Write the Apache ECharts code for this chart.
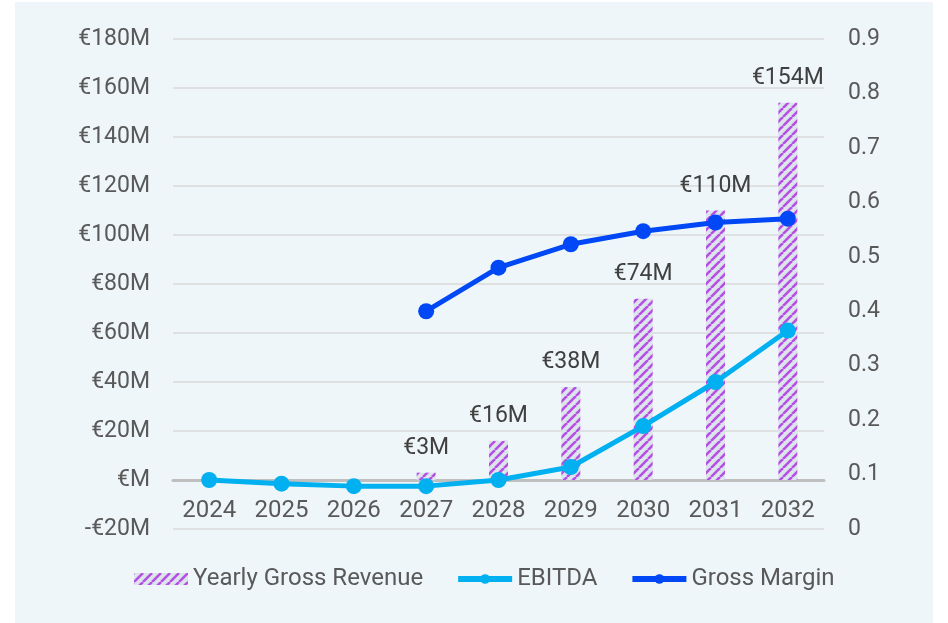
<!DOCTYPE html>
<html>
<head>
<meta charset="utf-8">
<script src="https://cdn.jsdelivr.net/npm/echarts@6/dist/echarts.min.js"></script>
<style>
    html, body {margin: 0; padding: 0; background: #ffffff;}
    #wrap {position: relative; width: 948px; height: 623px;}
    #panel {position: absolute; left: 15px; top: 2px; width: 918px; height: 621px; background: #eff6fa;}
    #chart {position: absolute; left: 0; top: 0; width: 948px; height: 623px;}
</style>
</head>
<body>
<div id="wrap">
    <div id="panel"></div>
    <div id="chart"></div>
</div>
<script>
// data
const years = ['2024', '2025', '2026', '2027', '2028', '2029', '2030', '2031', '2032'];
const grossRevenue = [0, 0, 0, 3, 16, 38, 74, 110, 154];
const ebitda = [0, -1.5, -2.5, -2.5, 0, 5.3, 22, 40, 61];
const grossMargin = [null, null, null, 0.40, 0.48, 0.523, 0.547, 0.563, 0.570];
const leftTicks = {min: -20, max: 180, interval: 20};
const rightTicks = {min: 0, max: 0.9, interval: 0.1};

// hatch pattern for the revenue bars
const makeHatch = () => {
    const size = 9;
    const c = document.createElement('canvas');
    c.width = size;
    c.height = size;
    const ctx = c.getContext('2d');
    ctx.fillStyle = '#dce5ea';
    ctx.fillRect(0, 0, size, size);
    ctx.strokeStyle = '#b54fe6';
    ctx.lineWidth = 2.6;
    [-size, 0, size].forEach(off => {
        ctx.beginPath();
        ctx.moveTo(off, size);
        ctx.lineTo(off + size, 0);
        ctx.stroke();
    });
    return c;
};
const hatch = {image: makeHatch(), repeat: 'repeat'};

const textColor = '#595959';
const fontFamily = 'Roboto, "Liberation Sans", sans-serif';
const ebitdaColor = '#00b0f0';
const marginColor = '#0047f5';

const moneyLabel = v => {
    if (v === 0) return '€M';
    if (v < 0) return '-€' + Math.abs(v) + 'M';
    return '€' + v + 'M';
};

const chart = echarts.init(document.getElementById('chart'), null, {renderer: 'canvas'});
const option = {
    backgroundColor: 'transparent',
    textStyle: {fontFamily},
    grid: {left: 173, right: 124, top: 39, height: 490},
    legend: {
        bottom: 27,
        left: 129,
        itemWidth: 54,
        itemHeight: 12,
        itemGap: 32,
        textStyle: {color: textColor, fontSize: 24, fontFamily},
        data: [
            {name: 'Yearly Gross Revenue', icon: 'rect'},
            {name: 'EBITDA', lineStyle: {width: 6, color: ebitdaColor}},
            {name: 'Gross Margin', lineStyle: {width: 6, color: marginColor}}
        ]
    },
    xAxis: {
        type: 'category',
        data: years,
        // x axis sits on the zero line of the left axis (49px above grid bottom)
        offset: -49,
        axisLine: {onZero: false, lineStyle: {color: '#bfbfbf', width: 3}},
        axisTick: {show: false},
        axisLabel: {color: textColor, fontSize: 24, margin: 19, fontFamily}
    },
    yAxis: [
        {
            type: 'value',
            min: leftTicks.min,
            max: leftTicks.max,
            interval: leftTicks.interval,
            axisLine: {show: false},
            axisTick: {show: false},
            splitLine: {lineStyle: {color: '#d9d9d9', width: 1.5}},
            axisLabel: {color: textColor, fontSize: 23, margin: 23, fontFamily, formatter: moneyLabel}
        },
        {
            type: 'value',
            min: rightTicks.min,
            max: rightTicks.max,
            interval: rightTicks.interval,
            axisLine: {show: false},
            axisTick: {show: false},
            splitLine: {show: false},
            axisLabel: {
                color: textColor, fontSize: 23, margin: 24, fontFamily,
                formatter: v => (Math.round(v * 10) / 10).toString()
            }
        }
    ],
    series: [
        {
            name: 'Yearly Gross Revenue',
            type: 'bar',
            yAxisIndex: 0,
            barWidth: 19,
            data: grossRevenue,
            itemStyle: {color: hatch},
            label: {
                show: true,
                position: 'top',
                distance: 13,
                color: '#404040',
                fontSize: 23,
                fontFamily,
                formatter: p => (p.value ? '€' + p.value + 'M' : '')
            },
            z: 1
        },
        {
            name: 'EBITDA',
            type: 'line',
            yAxisIndex: 0,
            data: ebitda,
            symbol: 'circle',
            symbolSize: 16,
            lineStyle: {color: ebitdaColor, width: 5},
            itemStyle: {color: ebitdaColor},
            z: 3
        },
        {
            name: 'Gross Margin',
            type: 'line',
            yAxisIndex: 1,
            data: grossMargin,
            symbol: 'circle',
            symbolSize: 16,
            lineStyle: {color: marginColor, width: 5},
            itemStyle: {color: marginColor},
            z: 4
        }
    ],
    animation: false
};
chart.setOption(option);
</script>
</body>
</html>
